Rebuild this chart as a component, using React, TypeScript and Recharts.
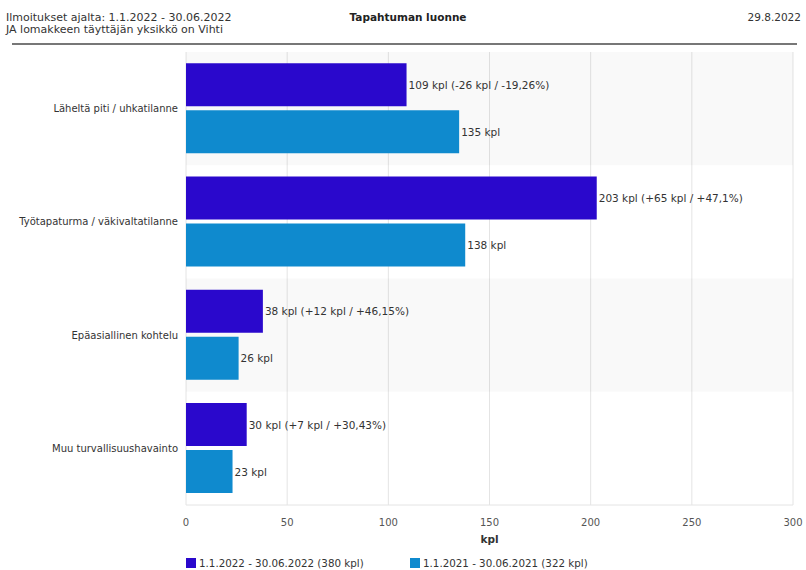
import React from "react";
import {
  BarChart,
  Bar,
  XAxis,
  YAxis,
  CartesianGrid,
  LabelList,
  ReferenceArea
} from "recharts";

const categories = [
  "Läheltä piti / uhkatilanne",
  "Työtapaturma / väkivaltatilanne",
  "Epäasiallinen kohtelu",
  "Muu turvallisuushavainto"
];
const current = [109, 203, 38, 30];
const previous = [135, 138, 26, 23];
const xTicks = [0, 50, 100, 150, 200, 250, 300];

const currentName = "1.1.2022 - 30.06.2022 (380 kpl)";
const previousName = "1.1.2021 - 30.06.2021 (322 kpl)";

const DARK = "#2a08cc";
const LIGHT = "#0f8ace";
const FONT = "'DejaVu Sans', Verdana, sans-serif";

const fmt = (n: number) => (Math.round(n * 100) / 100).toString().replace(".", ",");

const data = categories.map((name, i) => {
  const diff = current[i] - previous[i];
  const sign = diff >= 0 ? "+" : "-";
  const pct = (Math.abs(diff) / previous[i]) * 100;
  return {
    name,
    current: current[i],
    previous: previous[i],
    currentLabel: `${current[i]} kpl (${sign}${Math.abs(diff)} kpl / ${sign}${fmt(pct)}%)`,
    previousLabel: `${previous[i]} kpl`
  };
});

// labels drawn as plain text so they don't wrap
const BarText = (props: any) => {
  const { x, y, width, height, value } = props;
  return (
    <text
      x={x + width + 2}
      y={y + height / 2}
      dominantBaseline="central"
      fontSize={10.5}
      fill="#333"
      fontFamily={FONT}
    >
      {value}
    </text>
  );
};

const CatTick = (props: any) => {
  const { x, y, payload } = props;
  return (
    <text x={x} y={y} textAnchor="end" dominantBaseline="central" fontSize={10} fill="#333" fontFamily={FONT}>
      {payload.value}
    </text>
  );
};

export default function App() {
  return (
    <div style={{ position: "absolute", left: 0, top: 0, width: 806, height: 570, background: "#fff", fontFamily: FONT }}>
      <div style={{ position: "absolute", left: 6, top: 12, fontSize: 11, lineHeight: "12px", color: "#333" }}>
        Ilmoitukset ajalta: 1.1.2022 - 30.06.2022
        <br />
        JA lomakkeen täyttäjän yksikkö on Vihti
      </div>
      <div style={{ position: "absolute", left: 0, width: 816, top: 11, textAlign: "center", fontSize: 10.5, fontWeight: "bold", color: "#222" }}>
        Tapahtuman luonne
      </div>
      <div style={{ position: "absolute", right: 5, top: 11, fontSize: 10.5, color: "#333" }}>29.8.2022</div>
      <div style={{ position: "absolute", left: 12, width: 785, top: 43, height: 2, background: "#777" }} />
      <div style={{ position: "absolute", left: 0, top: 0 }}>
        <BarChart
          width={806}
          height={570}
          data={data}
          layout="vertical"
          margin={{ top: 52, right: 13, bottom: 35, left: 10 }}
          barCategoryGap="10%"
          barGap={4}
        >
          <ReferenceArea y1={categories[0]} y2={categories[0]} fill="#000" fillOpacity={0.025} stroke="none" />
          <ReferenceArea y1={categories[2]} y2={categories[2]} fill="#000" fillOpacity={0.025} stroke="none" />
          <CartesianGrid horizontal={false} stroke="#e4e4e4" />
          <XAxis
            type="number"
            domain={[0, 300]}
            ticks={xTicks}
            height={30}
            tickLine={false}
            axisLine={{ stroke: "#e4e4e4" }}
            tick={{ fontSize: 10, fill: "#555", fontFamily: FONT }}
            tickMargin={8}
            label={{ value: "kpl", position: "bottom", offset: 1, fontSize: 10.5, fontWeight: "bold", fill: "#333", fontFamily: FONT }}
          />
          <YAxis
            type="category"
            dataKey="name"
            width={176}
            tickLine={false}
            axisLine={false}
            tickMargin={2}
            tick={<CatTick />}
          />
          <Bar dataKey="current" name={currentName} fill={DARK} isAnimationActive={false}>
            <LabelList dataKey="currentLabel" content={<BarText />} />
          </Bar>
          <Bar dataKey="previous" name={previousName} fill={LIGHT} isAnimationActive={false}>
            <LabelList dataKey="previousLabel" content={<BarText />} />
          </Bar>
        </BarChart>
      </div>
      <div style={{ position: "absolute", left: 186, top: 557, display: "flex", fontSize: 10.3, color: "#333" }}>
        {[
          [DARK, currentName],
          [LIGHT, previousName]
        ].map(([c, label], i) => (
          <div key={i} style={{ display: "flex", alignItems: "center", width: 224 }}>
            <span style={{ width: 10, height: 10, background: c, marginRight: 3, display: "inline-block" }} />
            {label}
          </div>
        ))}
      </div>
    </div>
  );
}
